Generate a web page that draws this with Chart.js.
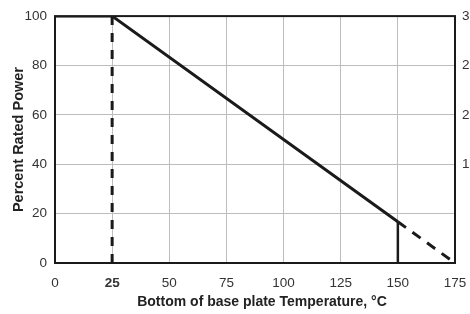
<!DOCTYPE html>
<html>
<head>
<meta charset="utf-8">
<script src="https://cdn.jsdelivr.net/npm/chart.js@4/dist/chart.umd.min.js"></script>
<style>
  html, body { margin: 0; padding: 0; background: #fff; }
  #wrap { width: 470px; height: 314px; }
</style>
</head>
<body>
<div id="wrap"><canvas id="c"></canvas></div>
<script>
// Derating curve values
const temps = [0, 25, 150];
const power = [100, 100, 16.7];
const extTemps = [150, 175];
const extPower = [16.7, 0];
const xTicks = [0, 25, 50, 75, 100, 125, 150, 175];
const yTicks = [0, 20, 40, 60, 80, 100];
// right axis is cut off at the window edge, only first digits show
const rightLabels = ['', '', '15', '20', '25', '30'];

const pts = (xs, ys) => xs.map((x, i) => ({x, y: ys[i]}));
const font = 'Liberation Sans, Arial, sans-serif';
const ink = '#1a1a1a';

// plot frame on all four sides
const framePlugin = {
  id: 'frame',
  afterDatasetsDraw(chart) {
    const {ctx, chartArea: a} = chart;
    ctx.save();
    ctx.strokeStyle = ink;
    ctx.lineWidth = 2;
    ctx.strokeRect(a.left, a.top, a.right - a.left, a.bottom - a.top);
    ctx.restore();
  }
};

new Chart(document.getElementById('c'), {
  type: 'scatter',
  data: {
    datasets: [
      { data: pts(temps, power), showLine: true, borderColor: ink, borderWidth: 3, pointRadius: 0 },
      { data: pts(extTemps, extPower), showLine: true, borderColor: ink, borderWidth: 3, borderDash: [10, 8], pointRadius: 0 },
      { data: pts([25, 25], [0, 100]), showLine: true, borderColor: ink, borderWidth: 3, borderDash: [9, 8], pointRadius: 0 },
      { data: pts([150, 150], [0, power[2]]), showLine: true, borderColor: ink, borderWidth: 2.5, pointRadius: 0 }
    ]
  },
  options: {
    responsive: true,
    maintainAspectRatio: false,
    animation: false,
    layout: { padding: { top: 13, left: 0, right: 0, bottom: 0 } },
    plugins: { legend: { display: false }, tooltip: { enabled: false } },
    scales: {
      x: {
        type: 'linear', min: 0, max: 175,
        afterBuildTicks: s => { s.ticks = xTicks.map(v => ({value: v})); },
        afterFit: s => { s.height = 51; s.paddingLeft = 0; s.paddingRight = 0; },
        grid: { color: '#bdbdbd', lineWidth: 1, drawTicks: false },
        border: { display: false },
        ticks: {
          padding: 12, color: '#333',
          font: c => ({ family: font, size: 13.5, weight: c.tick && c.tick.value === 25 ? 'bold' : 'normal' })
        },
        title: {
          display: true, text: '\u2002\u2002Bottom of base plate Temperature, °C',
          color: '#222', font: { family: font, size: 14, weight: 'bold' },
          padding: { top: 0, bottom: 3 }
        }
      },
      y: {
        min: 0, max: 100,
        afterBuildTicks: s => { s.ticks = yTicks.map(v => ({value: v})); },
        afterFit: s => { s.width = 55; },
        grid: { color: '#bdbdbd', lineWidth: 1, drawTicks: false },
        border: { display: false },
        ticks: { padding: 8, color: '#333', font: { family: font, size: 13.5 } },
        title: {
          display: true, text: 'Percent Rated Power',
          color: '#222', font: { family: font, size: 14.5, weight: 'bold' },
          padding: { top: 10, bottom: 0 }
        }
      },
      y2: {
        position: 'right', min: 0, max: 100,
        afterBuildTicks: s => { s.ticks = yTicks.map(v => ({value: v})); },
        afterFit: s => { s.width = 15; },
        grid: { display: false, drawTicks: false },
        border: { display: false },
        ticks: {
          padding: 7, color: '#333', font: { family: font, size: 13.5 },
          callback: v => rightLabels[yTicks.indexOf(v)]
        }
      }
    }
  },
  plugins: [framePlugin]
});
</script>
</body>
</html>
